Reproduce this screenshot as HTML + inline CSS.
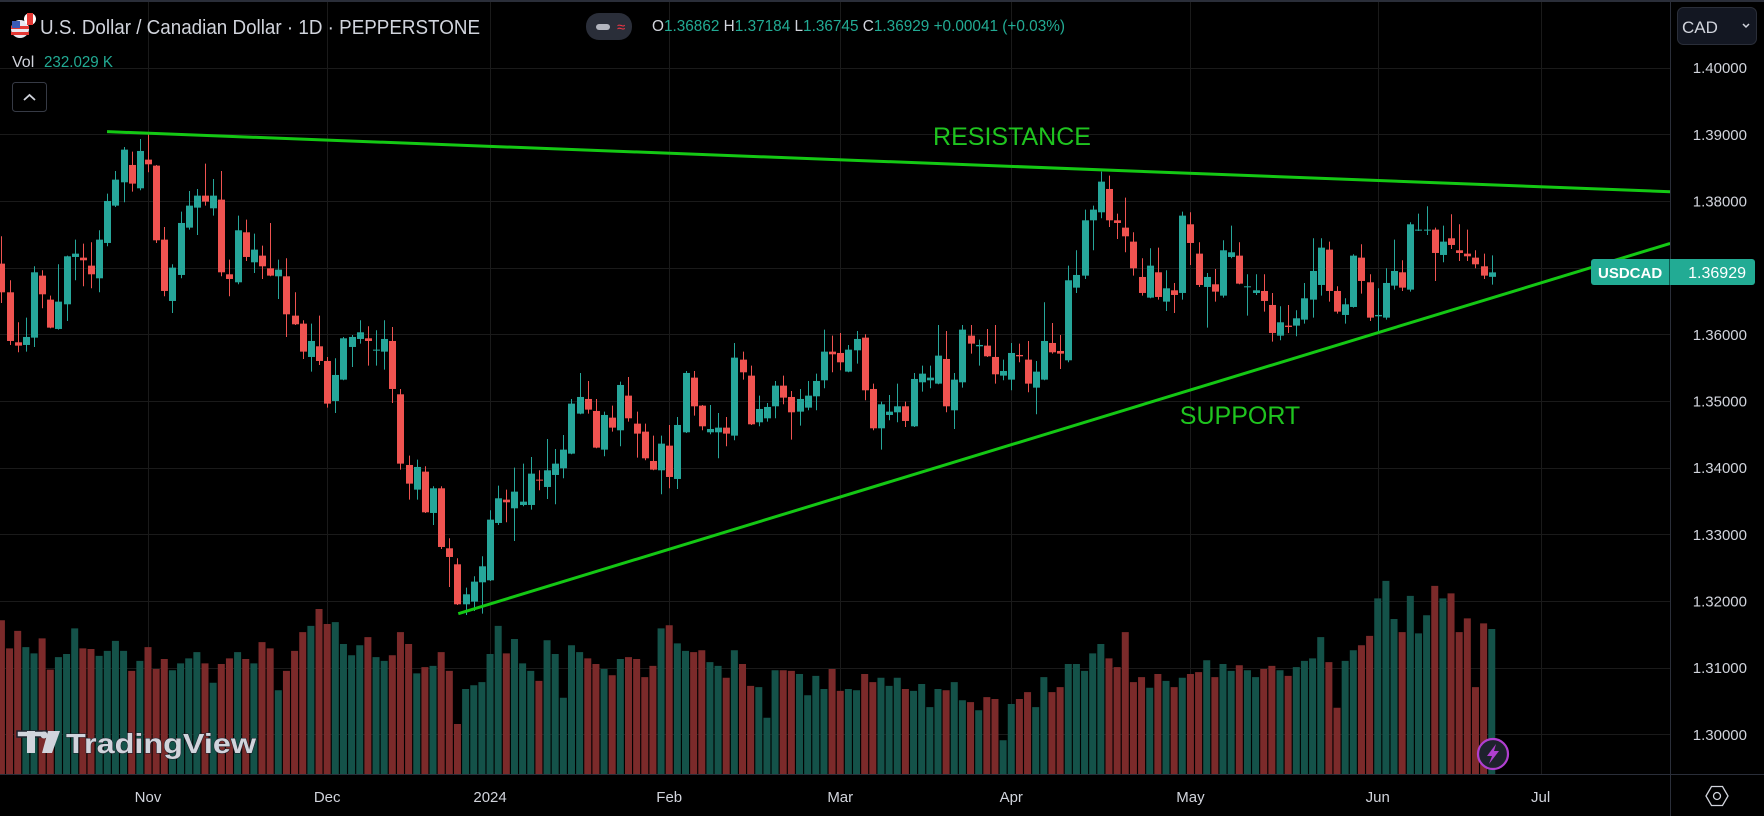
<!DOCTYPE html>
<html><head><meta charset="utf-8"><style>
html,body{margin:0;padding:0;background:#000;overflow:hidden}
svg{display:block}
text{font-family:"Liberation Sans",sans-serif}
</style></head><body>
<svg id="chart" xmlns="http://www.w3.org/2000/svg" width="1764" height="816" viewBox="0 0 1764 816">
<rect x="0" y="0" width="1764" height="816" fill="#000"/>
<g id="grid"></g>
<g id="volumes"></g>
<g id="candles"></g>
<g id="trend"></g>
<text x="1012" y="145" font-size="25" fill="#1fc41f" text-anchor="middle">RESISTANCE</text>
<text x="1240" y="424" font-size="25" fill="#1fc41f" text-anchor="middle">SUPPORT</text>
<rect x="0" y="0" width="1764" height="2" fill="#2a2e39"/>
<line x1="1670.5" y1="0" x2="1670.5" y2="816" stroke="#2a2e39" stroke-width="1"/>
<line x1="0" y1="774.5" x2="1764" y2="774.5" stroke="#2a2e39" stroke-width="1"/>
<g id="yaxis"></g>
<g id="xaxis"></g>
<!-- header -->
<g>
<circle cx="20" cy="29" r="9" fill="#e8e8f0"/><rect x="11" y="26" width="18" height="3" fill="#e53935"/><rect x="11" y="32" width="18" height="3" fill="#e53935"/><rect x="12" y="21" width="8" height="7" fill="#3b5bb5"/>
<circle cx="30" cy="19" r="6" fill="#fff"/><rect x="27" y="13" width="6" height="12" fill="#e53935"/>
</g>
<text x="40" y="34" font-size="20" fill="#d1d4dc" textLength="440" lengthAdjust="spacingAndGlyphs">U.S. Dollar / Canadian Dollar · 1D · PEPPERSTONE</text>
<rect x="586" y="13" width="46" height="27" rx="13" fill="#2a2e39"/>
<rect x="596" y="24" width="14" height="6" rx="3" fill="#b2b5be"/>
<text x="617" y="32" font-size="15" fill="#f23645">≈</text>
<text x="652" y="31" font-size="16" textLength="413" lengthAdjust="spacingAndGlyphs"><tspan fill="#d1d4dc">O</tspan><tspan fill="#22ab94">1.36862 </tspan><tspan fill="#d1d4dc">H</tspan><tspan fill="#22ab94">1.37184 </tspan><tspan fill="#d1d4dc">L</tspan><tspan fill="#22ab94">1.36745 </tspan><tspan fill="#d1d4dc">C</tspan><tspan fill="#22ab94">1.36929 +0.00041 (+0.03%)</tspan></text>
<text x="12" y="67" font-size="16" fill="#d1d4dc">Vol</text>
<text x="44" y="67" font-size="16" fill="#22ab94" textLength="69" lengthAdjust="spacingAndGlyphs">232.029 K</text>
<g>
<rect x="12.5" y="82.5" width="34" height="29" rx="3" fill="#000" stroke="#363a45"/>
<polyline points="24,100 29.5,95 35,100" fill="none" stroke="#d1d4dc" stroke-width="1.8"/>
</g>
<g>
<rect x="1677.5" y="7.5" width="79" height="37" rx="6" fill="#131722" stroke="#2a2e39"/>
<text x="1682" y="33" font-size="17" fill="#d1d4dc">CAD</text>
<polyline points="1743,24 1746,27 1749,24" fill="none" stroke="#d1d4dc" stroke-width="1.5"/>
</g>
<g>
<rect x="1591" y="259" width="164" height="26" rx="3" fill="#22ab94"/>
<line x1="1669.5" y1="259" x2="1669.5" y2="285" stroke="#0b5b50" stroke-width="1"/>
<text x="1598" y="278" font-size="15" font-weight="bold" fill="#fff">USDCAD</text>
<text x="1746" y="278" font-size="16" fill="#fff" text-anchor="end">1.36929</text>
</g>
<g>
<polygon points="1706,796 1711.5,786.5 1722.5,786.5 1728,796 1722.5,805.5 1711.5,805.5" fill="none" stroke="#d1d4dc" stroke-width="1.3"/>
<circle cx="1717" cy="796" r="3.5" fill="none" stroke="#d1d4dc" stroke-width="1.3"/>
</g>
<g>
<circle cx="1493" cy="754" r="15" fill="#1e222d" stroke="#b03fd0" stroke-width="2.2"/>
<polygon points="1496,744 1487,756 1492,756 1489,764 1499,751 1494,751" fill="#b03fd0"/>
</g>
<g>
<rect x="17" y="731" width="30" height="6" fill="#d1d4dc" stroke="#1e222d" stroke-width="1.5"/>
<rect x="27" y="731" width="8" height="22" fill="#d1d4dc"/>
<circle cx="44" cy="735" r="3.5" fill="#d1d4dc"/>
<polygon points="48,731 60,731 52,753 42,753" fill="#d1d4dc"/>
<text x="66" y="753" font-size="28" font-weight="bold" fill="#d1d4dc" stroke="#1e222d" stroke-width="1" paint-order="stroke" textLength="190" lengthAdjust="spacingAndGlyphs">TradingView</text>
</g>
</svg>
<script>
const opens=[1.3706,1.3663,1.3588,1.3584,1.3595,1.3688,1.3652,1.3608,1.3645,1.3716,1.3715,1.3703,1.3684,1.3737,1.3793,1.3828,1.3854,1.3819,1.3862,1.3853,1.3742,1.3650,1.3689,1.3760,1.3790,1.3808,1.3789,1.3802,1.3690,1.3678,1.3753,1.3708,1.3718,1.3699,1.3687,1.3687,1.3628,1.3616,1.3566,1.3582,1.3560,1.3500,1.3532,1.3581,1.3593,1.3594,1.3576,1.3574,1.3590,1.3510,1.3404,1.3367,1.3394,1.3332,1.3369,1.3279,1.3255,1.3195,1.3199,1.3228,1.3231,1.3317,1.3352,1.3339,1.3344,1.3344,1.3382,1.3371,1.3389,1.3399,1.3421,1.3481,1.3503,1.3485,1.3427,1.3475,1.3456,1.3508,1.3466,1.3454,1.3410,1.3396,1.3433,1.3383,1.3453,1.3535,1.3493,1.3453,1.3453,1.3460,1.3448,1.3562,1.3538,1.3468,1.3474,1.3492,1.3523,1.3506,1.3484,1.3490,1.3507,1.3531,1.3574,1.3572,1.3544,1.3576,1.3595,1.3518,1.3459,1.3479,1.3483,1.3492,1.3462,1.3528,1.3531,1.3526,1.3563,1.3486,1.3528,1.3598,1.3582,1.3583,1.3566,1.3538,1.3532,1.3569,1.3562,1.3520,1.3532,1.3587,1.3575,1.3561,1.3670,1.3688,1.3771,1.3783,1.3818,1.3771,1.3760,1.3739,1.3686,1.3655,1.3693,1.3649,1.3666,1.3662,1.3765,1.3721,1.3671,1.3675,1.3658,1.3716,1.3718,1.3671,1.3662,1.3665,1.3644,1.3598,1.3613,1.3613,1.3622,1.3652,1.3674,1.3727,1.3665,1.3629,1.3641,1.3715,1.3678,1.3627,1.3625,1.3673,1.3693,1.3667,1.3756,1.3756,1.3757,1.3719,1.3744,1.3726,1.3721,1.3715,1.3702,1.36862];
const highs=[1.3747,1.3681,1.3618,1.3625,1.3702,1.3696,1.3658,1.3705,1.3718,1.3742,1.3736,1.3738,1.3756,1.3811,1.3845,1.3881,1.3874,1.3893,1.3901,1.3854,1.3761,1.3705,1.3784,1.3815,1.3818,1.3856,1.3833,1.3845,1.3712,1.3778,1.3772,1.3751,1.3733,1.3767,1.3712,1.3714,1.3663,1.3621,1.3616,1.3628,1.3566,1.3564,1.3596,1.3599,1.3621,1.3612,1.3606,1.3621,1.3611,1.3518,1.3418,1.3412,1.3402,1.3372,1.3372,1.3294,1.3264,1.3220,1.3237,1.3267,1.3336,1.3373,1.3367,1.3400,1.3406,1.3416,1.3396,1.3443,1.3428,1.3449,1.3503,1.3542,1.3530,1.3503,1.3484,1.3493,1.3529,1.3536,1.3484,1.3466,1.3448,1.3448,1.3464,1.3476,1.3545,1.3545,1.3494,1.3494,1.3482,1.3476,1.3587,1.3574,1.3553,1.3508,1.3497,1.3530,1.3538,1.3515,1.3518,1.3530,1.3541,1.3607,1.3598,1.3602,1.3584,1.3605,1.3600,1.3526,1.3499,1.3509,1.3526,1.3499,1.3542,1.3553,1.3553,1.3614,1.3605,1.3542,1.3614,1.3614,1.3592,1.3608,1.3614,1.3562,1.3587,1.3586,1.3590,1.3560,1.3648,1.3617,1.3599,1.3703,1.3726,1.3787,1.3793,1.3844,1.3838,1.3781,1.3805,1.3753,1.3714,1.3729,1.3730,1.3696,1.3677,1.3784,1.3783,1.3738,1.3692,1.3698,1.3741,1.3763,1.3738,1.3690,1.3690,1.3690,1.3662,1.3642,1.3644,1.3636,1.3677,1.3744,1.3744,1.3739,1.3672,1.3654,1.3720,1.3735,1.3690,1.3669,1.3699,1.3742,1.3711,1.3768,1.3781,1.3792,1.3760,1.3763,1.3780,1.3765,1.3757,1.3726,1.3721,1.37184];
const lows=[1.3647,1.3584,1.3573,1.3574,1.3581,1.3639,1.3609,1.3607,1.3620,1.3681,1.3672,1.3669,1.3663,1.3732,1.3791,1.3798,1.3814,1.3816,1.3843,1.3737,1.3657,1.3632,1.3684,1.3757,1.3749,1.3793,1.3778,1.3687,1.3657,1.3675,1.3710,1.3692,1.3683,1.3687,1.3653,1.3596,1.3614,1.3563,1.3544,1.3554,1.3490,1.3482,1.3531,1.3551,1.3586,1.3553,1.3553,1.3547,1.3497,1.3397,1.3352,1.3352,1.3332,1.3314,1.3278,1.3221,1.3194,1.3179,1.3185,1.3181,1.3230,1.3314,1.3318,1.3290,1.3342,1.3337,1.3366,1.3353,1.3345,1.3384,1.3420,1.3480,1.3481,1.3429,1.3417,1.3454,1.3432,1.3469,1.3415,1.3411,1.3396,1.3360,1.3369,1.3368,1.3452,1.3478,1.3456,1.3450,1.3414,1.3432,1.3441,1.3532,1.3464,1.3462,1.3469,1.3474,1.3495,1.3442,1.3463,1.3486,1.3486,1.3519,1.3543,1.3546,1.3543,1.3556,1.3501,1.3456,1.3427,1.3471,1.3468,1.3461,1.3461,1.3514,1.3519,1.3525,1.3483,1.3458,1.3520,1.3571,1.3553,1.3566,1.3526,1.3531,1.3516,1.3558,1.3513,1.3480,1.3531,1.3571,1.3548,1.3558,1.3662,1.3683,1.3726,1.3774,1.3761,1.3743,1.3723,1.3688,1.3658,1.3654,1.3652,1.3635,1.3632,1.3652,1.3704,1.3671,1.3610,1.3649,1.3655,1.3714,1.3675,1.3628,1.3659,1.3634,1.3589,1.3591,1.3602,1.3597,1.3616,1.3625,1.3658,1.3649,1.3631,1.3616,1.3640,1.3661,1.3620,1.3604,1.3622,1.3667,1.3665,1.3664,1.3755,1.3749,1.3680,1.3708,1.3728,1.3710,1.3710,1.3699,1.3683,1.36745];
const closes=[1.3663,1.3590,1.3583,1.3596,1.3693,1.3660,1.3610,1.3649,1.3717,1.3721,1.3711,1.3690,1.3742,1.3800,1.3832,1.3877,1.3826,1.3875,1.3855,1.3741,1.3665,1.3700,1.3767,1.3793,1.3808,1.3799,1.3808,1.3693,1.3683,1.3756,1.3716,1.3727,1.3702,1.3688,1.3697,1.3630,1.3615,1.3574,1.3590,1.3560,1.3496,1.3539,1.3594,1.3596,1.3603,1.3590,1.3577,1.3593,1.3518,1.3406,1.3376,1.3401,1.3333,1.3369,1.3281,1.3266,1.3195,1.3210,1.3229,1.3252,1.3322,1.3354,1.3348,1.3364,1.3349,1.3391,1.3381,1.3396,1.3406,1.3427,1.3496,1.3506,1.3487,1.3430,1.3479,1.3460,1.3524,1.3474,1.3451,1.3414,1.3397,1.3436,1.3386,1.3464,1.3542,1.3492,1.3462,1.3458,1.3460,1.3451,1.3565,1.3543,1.3465,1.3488,1.3491,1.3523,1.3505,1.3483,1.3503,1.3508,1.3530,1.3574,1.3570,1.3558,1.3577,1.3593,1.3516,1.3459,1.3495,1.3484,1.3492,1.3470,1.3533,1.3541,1.3535,1.3568,1.3492,1.3532,1.3607,1.3586,1.3584,1.3567,1.3540,1.3545,1.3572,1.3567,1.3526,1.3544,1.3590,1.3573,1.3571,1.3681,1.3689,1.3771,1.3787,1.3829,1.3771,1.3767,1.3747,1.3699,1.3662,1.3703,1.3656,1.3669,1.3659,1.3778,1.3737,1.3674,1.3686,1.3664,1.3726,1.3723,1.3676,1.3672,1.3666,1.3650,1.3602,1.3618,1.3611,1.3624,1.3654,1.3695,1.3730,1.3665,1.3634,1.3645,1.3718,1.3680,1.3625,1.3629,1.3677,1.3695,1.3670,1.3765,1.3757,1.3757,1.3722,1.3739,1.3734,1.3722,1.3717,1.3705,1.3688,1.36929];
const volumes=[246,201,229,203,193,217,167,187,192,233,201,200,189,197,213,197,165,181,203,168,184,166,177,185,195,177,146,176,185,195,184,177,211,201,134,165,197,227,237,264,240,243,208,190,206,219,187,181,190,227,208,161,171,173,195,165,80,136,142,147,192,237,193,216,177,165,149,214,192,122,206,195,185,176,168,158,184,187,184,155,173,233,238,209,197,195,198,179,173,154,198,176,141,139,90,166,166,165,160,126,157,136,168,133,136,134,160,147,154,141,154,136,133,144,107,136,134,147,118,115,102,123,120,54,112,120,131,107,155,131,139,176,176,165,193,208,185,171,227,147,155,138,160,149,139,154,160,163,182,155,176,165,174,166,155,168,173,166,157,171,181,185,219,179,106,181,198,206,221,281,309,248,227,285,225,254,301,281,289,227,249,139,241,232];
const priceTicks=["1.40000","1.39000","1.38000","1.37000","1.36000","1.35000","1.34000","1.33000","1.32000","1.31000","1.30000"];
const monthLabels=["Nov","Dec","2024","Feb","Mar","Apr","May","Jun","Jul"];
const monthIndex=[18,40,60,82,103,124,146,169,189];
const resistanceIdx=[12.97,204.9];
const resistancePrice=[1.3904,1.38139];
const supportIdx=[56.1,204.9];
const supportPrice=[1.3181,1.37363];

const NS="http://www.w3.org/2000/svg";
function X(i){return 148+(i-18)*8.144;}
function Y(p){return 134.3+(1.39-p)*6666.7;}
function V(v){return 774-v/1.6;}
function mk(tag,attrs,parent){const e=document.createElementNS(NS,tag);for(const k in attrs)e.setAttribute(k,attrs[k]);parent.appendChild(e);return e;}

const grid=document.getElementById('grid');
priceTicks.forEach(function(t){
  const y=Math.round(Y(parseFloat(t)))+0.5;
  const l=mk('line',{x1:0,x2:1670,y1:y,y2:y,stroke:'#1a1a1a','stroke-width':1},grid);
  
  
});
monthIndex.forEach(function(i){
  const x=Math.round(X(i))+0.5;
  const l=mk('line',{x1:x,x2:x,y1:0,y2:774,stroke:'#1a1a1a','stroke-width':1},grid);
  
  
});

const yaxis=document.getElementById('yaxis');
priceTicks.forEach(function(t){
  const e=mk('text',{x:1747,y:Y(parseFloat(t))+5.5,'font-size':15,fill:'#d1d4dc','text-anchor':'end'},yaxis);
  e.textContent=t;
  
  
});
const xaxis=document.getElementById('xaxis');
monthLabels.forEach(function(m,k){
  const e=mk('text',{x:X(monthIndex[k]),y:802,'font-size':15,fill:'#d1d4dc','text-anchor':'middle'},xaxis);
  e.textContent=m;
  
  
});

const vg=document.getElementById('volumes');
volumes.forEach(function(v,i){
  const up=closes[i]>=opens[i];
  const top=V(v);
  const r=mk('rect',{x:X(i)-3.5,y:top,width:7,height:774-top,fill:up?'#145249':'#7b2a2a'},vg);
  
  
});

const cg=document.getElementById('candles');
opens.forEach(function(o,i){
  const c=closes[i],up=c>=o,col=up?'#26a69a':'#ef5350';
  const x=X(i);
  const g=mk('g',{},cg);
  
  
  mk('line',{x1:Math.round(x)+0.5,x2:Math.round(x)+0.5,y1:Y(highs[i]),y2:Y(lows[i]),stroke:col,'stroke-width':1},g);
  const t=Y(Math.max(o,c)),b=Y(Math.min(o,c));
  mk('rect',{x:Math.round(x)-3,y:t,width:7,height:Math.max(1,b-t),fill:col},g);
});

const tg=document.getElementById('trend');
const rl=mk('line',{x1:X(resistanceIdx[0]),y1:Y(resistancePrice[0]),x2:X(resistanceIdx[1]),y2:Y(resistancePrice[1]),stroke:'#14c814','stroke-width':3},tg);


const sl=mk('line',{x1:X(supportIdx[0]),y1:Y(supportPrice[0]),x2:X(supportIdx[1]),y2:Y(supportPrice[1]),stroke:'#14c814','stroke-width':3},tg);


</script>
</body></html>
